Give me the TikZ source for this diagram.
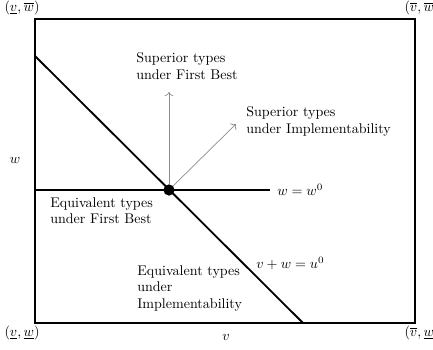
\documentclass[tikz,border=0pt]{standalone}
\usepackage{amsmath,amssymb}
\usetikzlibrary{positioning,calc}
\usetikzlibrary{arrows.meta}
\definecolor{ArrGray}{RGB}{140,140,140}
\tikzset{
  dot/.style={circle,fill=black,inner sep=0pt,minimum size=8pt},
  thick line/.style={draw=black,line width=1.3pt},
  arr/.style={draw=ArrGray,line width=0.5pt,-{To[length=3pt]}},
  lab/.style={inner sep=0pt,align=left},
}
\begin{document}
\begin{tikzpicture}[x=0.025cm,y=-0.025cm]
\useasboundingbox (0,0) rectangle (433,349);
\draw[line width=0.9pt] (35,19) rectangle (415,323);
\coordinate (TL) at (35,56);\coordinate (BR) at (303,323);
\coordinate (HL) at (35,190);\coordinate (HR) at (270,190);
\node[dot](P) at (169,190){};
\coordinate (U) at (169,92);\coordinate (D) at (236,124);
\draw[thick line] (HL)--(HR);\draw[thick line] (TL)--(BR);
\draw[arr] (P)--(U);\draw[arr] (P)--(D);
\node[lab,anchor=west](wz) at (277,190){$w=w^0$};
\node[lab,anchor=west](vw) at (256,263){$v+w=u^0$};
\node[lab,anchor=north west](sfb) at (136,52){Superior types\\under First Best};
\node[lab,anchor=north west](sim) at (246,106){Superior types\\under Implementability};
\node[lab,anchor=north west](efb) at (50,197){Equivalent types\\under First Best};
\node[lab,anchor=north west](eim) at (137,265){Equivalent types\\under\\Implementability};
\node[lab](wl) at (15,160){$w$};\node[lab](vl) at (226,337){$v$};
\node[lab](c1) at (22,8){$(\underline{v},\overline{w})$};
\node[lab](c2) at (422,8){$(\overline{v},\overline{w})$};
\node[lab](c3) at (22,333){$(\underline{v},\underline{w})$};
\node[lab](c4) at (422,333){$(\overline{v},\underline{w})$};
\end{tikzpicture}
\end{document}
